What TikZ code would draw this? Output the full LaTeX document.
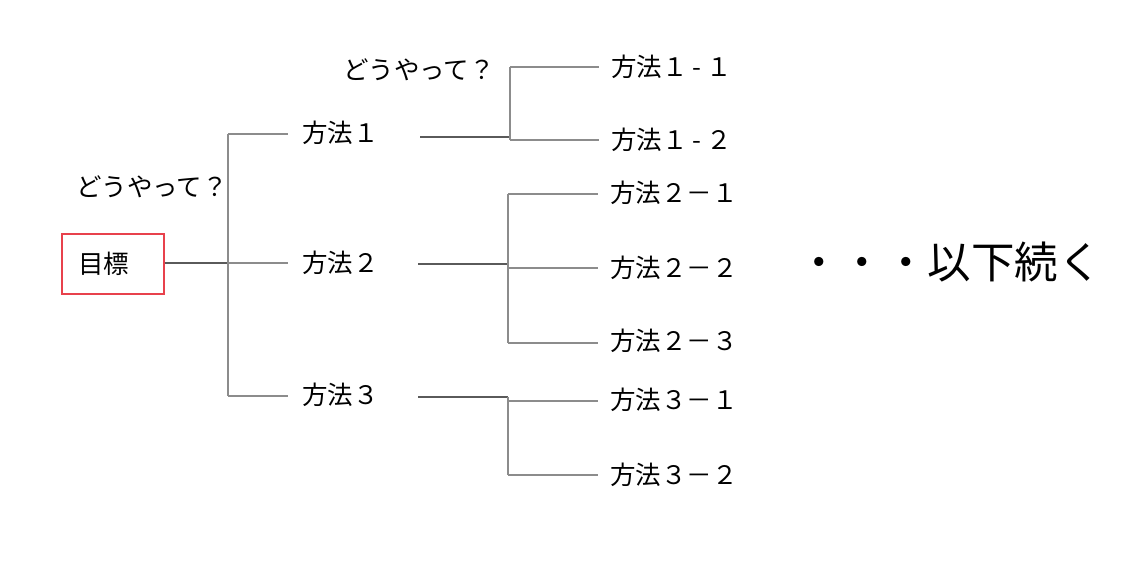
\documentclass[tikz,border=0pt]{standalone}
\usepackage{fontspec}
\setmainfont{Noto Sans CJK JP}
\definecolor{boxred}{HTML}{E8414C}
\definecolor{linegray}{HTML}{8C8C8C}
\definecolor{linedark}{HTML}{5A5A5A}
\tikzset{
  lbl/.style={anchor=west, inner sep=0pt, font=\fontsize{25.5}{29}\selectfont},
  goalbox/.style={draw=boxred, line width=1.3pt, minimum width=102pt, minimum height=60pt,
     text width=70pt, align=left, inner xsep=16pt, inner ysep=0pt, font=\fontsize{25.5}{29}\selectfont},
  br/.style={draw=linegray, line width=1.4pt},
  trunk/.style={draw=linedark, line width=1.6pt},
}
\newcommand{\hy}{\hspace{5pt}-\hspace{5pt}}
\begin{document}
\begin{tikzpicture}[x=1pt,y=-1pt]
\useasboundingbox (0,0) rectangle (1136,560);
% root
\node[goalbox] (goal) at (113,264) {目標};
\node[lbl] (q1) at (76,187) {どうやって？};
\node[lbl] (m1) at (302,133) {方法１};
\node[lbl] (m2) at (302,263) {方法２};
\node[lbl] (m3) at (302,395) {方法３};
\coordinate (j0) at (228,263);
\coordinate (j0t) at (228,134);
\coordinate (j0b) at (228,396);
\draw[trunk] (goal.east |- j0) -- (j0);
\draw[br] (j0t) -- (j0b);
\draw[br] (j0t) -- (288,134) coordinate (e1);
\draw[br] (j0) -- (288,263) coordinate (e2);
\draw[br] (j0b) -- (288,396) coordinate (e3);
% level 2, method 1
\node[lbl] (q2) at (343,70) {どうやって？};
\node[lbl] (m11) at (611,67) {方法１\hy １};
\node[lbl] (m12) at (611,140) {方法１\hy ２};
\coordinate (s1) at (420,137);
\coordinate (k1) at (510,137);
\coordinate (k1t) at (510,67);
\coordinate (k1b) at (510,140);
\draw[trunk] (s1) -- (k1);
\draw[br] (k1t) -- (k1b);
\draw[br] (k1t) -- (599,67);
\draw[br] (k1b) -- (599,140);
% method 2
\node[lbl] (m21) at (610,193) {方法２－１};
\node[lbl] (m22) at (610,268) {方法２－２};
\node[lbl] (m23) at (610,341) {方法２－３};
\coordinate (s2) at (418,264);
\coordinate (k2) at (508,264);
\coordinate (k2t) at (508,194);
\coordinate (k2b) at (508,343);
\draw[trunk] (s2) -- (k2);
\draw[br] (k2t) -- (k2b);
\draw[br] (k2t) -- (598,194);
\draw[br] (508,268) -- (598,268);
\draw[br] (k2b) -- (598,343);
% method 3
\node[lbl] (m31) at (610,400) {方法３－１};
\node[lbl] (m32) at (610,475) {方法３－２};
\coordinate (s3) at (418,397);
\coordinate (k3) at (508,397);
\coordinate (k3b) at (508,475);
\draw[trunk] (s3) -- (k3);
\draw[br] (k3) -- (k3b);
\draw[br] (508,401) -- (598,401);
\draw[br] (k3b) -- (598,475);
% continuation
\node[anchor=west, inner sep=0pt, font=\fontsize{43.5}{49}\selectfont] (cont) at (797,262) {・・・以下続く};
\end{tikzpicture}
\end{document}
